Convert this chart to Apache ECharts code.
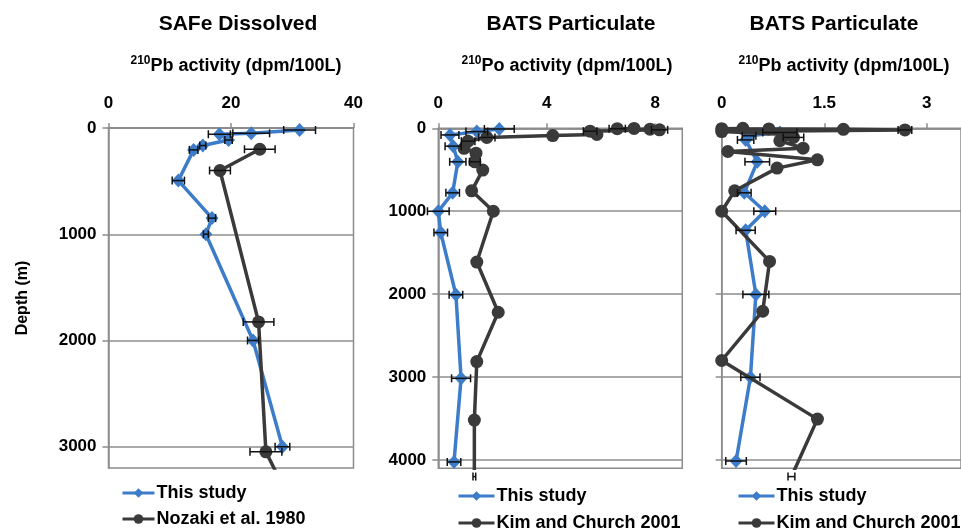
<!DOCTYPE html>
<html>
<head>
<meta charset="utf-8">
<script src="https://cdn.jsdelivr.net/npm/echarts@6/dist/echarts.min.js"></script>
<style>
html,body{margin:0;padding:0;background:#fff;}
#chart{width:961px;height:531px;}
</style>
</head>
<body>
<div id="chart"></div>
<script>
// ---------- Panel 1: SAFe Dissolved, 210Pb (dpm/100L) ----------
const safeThisDepth = [19, 50, 59, 113, 165, 206, 495, 848, 1000, 2000, 3000];
const safeThisPb    = [31.2, 23.3, 18.1, 19.6, 15.4, 13.9, 11.4, 16.9, 15.9, 23.6, 28.4];
const safeThisErr   = [2.6, 3.0, 1.8, 0.6, 0.5, 0.7, 1.0, 0.6, 0.4, 0.9, 1.2];
const nozakiDepth   = [200, 400, 1825, 3048, 3500];
const nozakiPb      = [24.7, 18.2, 24.5, 25.7, 29.6];
const nozakiErr     = [2.5, 1.7, 2.5, 2.6, 0];

// ---------- Panel 2: BATS Particulate, 210Po ----------
const batsPoThisDepth = [8, 40, 80, 215, 404, 778, 1000, 1258, 2007, 3015, 4023];
const batsPoThis      = [2.25, 1.42, 0.43, 0.55, 0.72, 0.53, 0.0, 0.09, 0.65, 0.84, 0.58];
const batsPoThisErr   = [0.55, 0.4, 0.33, 0.3, 0.3, 0.25, 0.4, 0.25, 0.25, 0.35, 0.25];
const kimPoDepth = [2, 5, 10, 18, 35, 75, 88, 110, 155, 242, 300, 404, 504, 754, 1000, 1613, 2218, 2813, 3518, 4200];
const kimPo      = [7.22, 6.6, 7.81, 8.16, 5.6, 5.85, 4.22, 1.79, 1.1, 0.95, 1.39, 1.35, 1.64, 1.23, 2.03, 1.42, 2.21, 1.42, 1.33, 1.33];
const kimPoErr   = [0, 0.3, 0, 0.3, 0.25, 0, 0, 0.3, 0.25, 0, 0, 0.2, 0, 0, 0, 0, 0, 0, 0, 0.05];

// ---------- Panel 3: BATS Particulate, 210Pb ----------
const batsPbThisDepth = [50, 90, 140, 404, 778, 1000, 1230, 2003, 3003, 4012];
const batsPbThis      = [0.85, 0.40, 0.35, 0.52, 0.33, 0.63, 0.35, 0.50, 0.42, 0.21];
const batsPbThisErr   = [0.25, 0.1, 0.12, 0.18, 0.1, 0.16, 0.14, 0.19, 0.14, 0.15];
const kimPbDepth = [0, 5, 8, 12, 20, 40, 75, 110, 150, 240, 280, 380, 480, 754, 1000, 1605, 2206, 2800, 3507, 4200];
const kimPb      = [0.31, 0.0, 0.69, 1.78, 2.68, 0.0, 0.95, 1.05, 0.85, 1.19, 0.09, 1.40, 0.81, 0.19, 0.0, 0.70, 0.60, 0.0, 1.40, 1.02];
const kimPbErr   = [0, 0, 0, 0, 0.1, 0, 0, 0.15, 0, 0, 0, 0, 0, 0, 0, 0, 0, 0, 0, 0.05];

// ---------- Axis ticks / labels ----------
const xTicks = [[0, 20, 40], [0, 4, 8], [0, 1.5, 3]];
const xMax   = [40, 9, 3.5];
const xStep  = [20, 4, 1.5];
const depthTicks = [[0, 1000, 2000, 3000], [0, 1000, 2000, 3000, 4000], [0, 1000, 2000, 3000, 4000]];
const depthMax = [3200, 4100, 4100];

const titles    = ['SAFe Dissolved', 'BATS Particulate', 'BATS Particulate'];
const subIso    = ['210', '210', '210'];
const subMain   = ['Pb activity (dpm/100L)', 'Po activity (dpm/100L)', 'Pb activity (dpm/100L)'];
const names     = [['This study', 'Nozaki et al. 1980'], ['This study', 'Kim and Church 2001'], ['This study', 'Kim and Church 2001']];

const BLUE = '#3d7cc9';
const DARK = '#3a3a3a';
const GRIDC = '#8c8c8c';
const FONT = "'Liberation Sans', Arial, sans-serif";

const pair = (xs, ds) => xs.map((v, i) => [v, ds[i]]);
const triple = (xs, ds, es) => xs.map((v, i) => [v, ds[i], es[i]]);

const grids = [
  {left: 108.5, top: 128, width: 245, height: 340},
  {left: 438.3, top: 128.3, width: 244, height: 340},
  {left: 721.7, top: 128.3, right: -6, height: 340}
];
const titleX = [233, 566, 829];
const subX = [231, 562, 839];

function errRender(params, api) {
  const x = api.value(0), y = api.value(1), e = api.value(2);
  if (!e) return null;
  const a = api.coord([x - e, y]);
  const b = api.coord([x + e, y]);
  const st = {stroke: '#111', lineWidth: 1.5};
  return {type: 'group', children: [
    {type: 'line', shape: {x1: a[0], y1: a[1], x2: b[0], y2: b[1]}, style: st},
    {type: 'line', shape: {x1: a[0], y1: a[1] - 4, x2: a[0], y2: a[1] + 4}, style: st},
    {type: 'line', shape: {x1: b[0], y1: b[1] - 4, x2: b[0], y2: b[1] + 4}, style: st}
  ]};
}

const blueData = [pair(safeThisPb, safeThisDepth), pair(batsPoThis, batsPoThisDepth), pair(batsPbThis, batsPbThisDepth)];
const darkData = [pair(nozakiPb, nozakiDepth), pair(kimPo, kimPoDepth), pair(kimPb, kimPbDepth)];
const blueErr = [triple(safeThisPb, safeThisDepth, safeThisErr), triple(batsPoThis, batsPoThisDepth, batsPoThisErr), triple(batsPbThis, batsPbThisDepth, batsPbThisErr)];
const darkErr = [triple(nozakiPb, nozakiDepth, nozakiErr), triple(kimPo, kimPoDepth, kimPoErr), triple(kimPb, kimPbDepth, kimPbErr)];

const xAxes = [], yAxes = [], series = [], title = [], legend = [];
for (let i = 0; i < 3; i++) {
  xAxes.push({
    type: 'value', gridIndex: i, position: 'top', min: 0, max: xMax[i], interval: xStep[i],
    axisLine: {show: true, onZero: false, lineStyle: {color: GRIDC, width: 1.5}},
    axisTick: {show: true, length: 5, customValues: xTicks[i], lineStyle: {color: GRIDC, width: 1.5}},
    axisLabel: {customValues: xTicks[i], fontSize: 17, fontWeight: 'bold', color: '#000', fontFamily: FONT, margin: 16,
      formatter: v => (xTicks[i].some(t => Math.abs(t - v) < 1e-6) ? String(v) : '')},
    splitLine: {show: false}
  });
  yAxes.push({
    type: 'value', gridIndex: i, inverse: true, min: 0, max: depthMax[i], interval: 1000,
    name: i === 0 ? 'Depth (m)' : '', nameLocation: 'middle', nameRotate: 90, nameGap: 78,
    nameTextStyle: {fontSize: 16, fontWeight: 'bold', color: '#000', fontFamily: FONT},
    axisLine: {show: true, onZero: false, lineStyle: {color: GRIDC, width: 1.5}},
    axisTick: {show: true, length: 6, customValues: depthTicks[i], lineStyle: {color: GRIDC, width: 1.5}},
    axisLabel: {show: i < 2, customValues: depthTicks[i], fontSize: 17, fontWeight: 'bold', color: '#000', fontFamily: FONT, margin: 12,
      formatter: v => (v % 1000 === 0 ? String(v) : '')},
    splitLine: {show: true, lineStyle: {color: GRIDC, width: 1.5}}
  });
  series.push({
    name: names[i][0], type: 'line', xAxisIndex: i, yAxisIndex: i, data: blueData[i],
    symbol: 'diamond', symbolSize: [13, 14], color: BLUE,
    lineStyle: {color: BLUE, width: 3.5}, itemStyle: {color: BLUE}, clip: true, z: 2, animation: false
  });
  series.push({
    name: names[i][1], type: 'line', xAxisIndex: i, yAxisIndex: i, data: darkData[i],
    symbol: 'circle', symbolSize: 13, color: DARK,
    lineStyle: {color: DARK, width: 3.5}, itemStyle: {color: DARK}, clip: true, z: 3, animation: false
  });
  series.push({
    type: 'custom', xAxisIndex: i, yAxisIndex: i, data: blueErr[i], renderItem: errRender,
    encode: {x: 0, y: 1}, z: 4, silent: true, animation: false
  });
  series.push({
    type: 'custom', xAxisIndex: i, yAxisIndex: i, data: darkErr[i], renderItem: errRender,
    encode: {x: 0, y: 1}, z: 4, silent: true, animation: false
  });
  title.push({
    text: titles[i], left: titleX[i], top: 9, textAlign: 'center',
    textStyle: {fontSize: 21, fontWeight: 'bold', color: '#000', fontFamily: FONT}
  });
  title.push({
    text: '{sup|' + subIso[i] + '}{main|' + subMain[i] + '}', left: subX[i], top: 50, textAlign: 'center',
    textStyle: {fontFamily: FONT, rich: {
      sup: {fontSize: 12, fontWeight: 'bold', color: '#000', fontFamily: FONT, verticalAlign: 'top', lineHeight: 22, padding: [0, 0, 8, 0]},
      main: {fontSize: 18, fontWeight: 'bold', color: '#000', fontFamily: FONT, lineHeight: 22}
    }}
  });
}

// legend: one component per entry so each can be placed exactly
const legendPos = [
  [[121, 493], [121, 519]],
  [[457, 496], [457, 523]],
  [[737, 496], [737, 523]]
];
const legendIconW = [32, 36, 36];
for (let i = 0; i < 3; i++) {
  for (let j = 0; j < 2; j++) {
    legend.push({
      left: legendPos[i][j][0], top: legendPos[i][j][1] - 10, padding: 0, orient: 'horizontal',
      itemWidth: legendIconW[i], itemHeight: 12, itemGap: 0, selectedMode: false,
      lineStyle: {width: 3},
      data: [names[i][j]],
      textStyle: {fontSize: 18, fontWeight: 'bold', color: '#000', fontFamily: FONT, padding: [0, 0, 0, -3], lineHeight: 20}
    });
  }
}

const chart = echarts.init(document.getElementById('chart'), null, {renderer: 'canvas'});
chart.setOption({
  backgroundColor: '#ffffff',
  animation: false,
  title: title,
  legend: legend,
  grid: grids.map(g => Object.assign({show: true, borderColor: GRIDC, borderWidth: 1.5, containLabel: false}, g)),
  xAxis: xAxes,
  yAxis: yAxes,
  series: series
});
</script>
</body>
</html>
